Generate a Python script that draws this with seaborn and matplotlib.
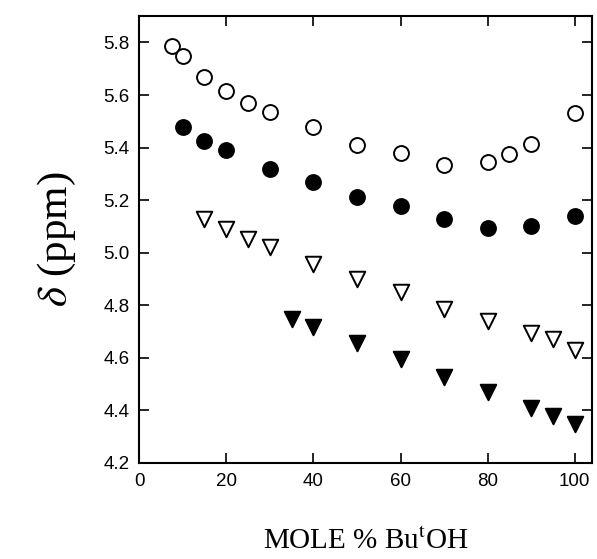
import numpy as np
import matplotlib
matplotlib.use("Agg")
import matplotlib.pyplot as plt
import pandas as pd
import seaborn as sns

# values
x_open_circ = [7.5, 10, 15, 20, 25, 30, 40, 50, 60, 70, 80, 85, 90, 100]
y_open_circ = [5.785, 5.75, 5.67, 5.615, 5.57, 5.535, 5.48, 5.41, 5.38, 5.335, 5.345, 5.375, 5.415, 5.53]

x_fill_circ = [10, 15, 20, 30, 40, 50, 60, 70, 80, 90, 100]
y_fill_circ = [5.48, 5.426, 5.39, 5.32, 5.27, 5.21, 5.177, 5.128, 5.094, 5.10, 5.14]

x_open_tri = [15, 20, 25, 30, 40, 50, 60, 70, 80, 90, 95, 100]
y_open_tri = [5.13, 5.09, 5.053, 5.02, 4.955, 4.90, 4.85, 4.785, 4.74, 4.695, 4.67, 4.63]

x_fill_tri = [35, 40, 50, 60, 70, 80, 90, 95, 100]
y_fill_tri = [4.747, 4.717, 4.655, 4.596, 4.525, 4.468, 4.408, 4.38, 4.347]

series = [
    (x_open_circ, y_open_circ, 'o', 'white', 115),
    (x_fill_circ, y_fill_circ, 'o', 'black', 115),
    (x_open_tri, y_open_tri, 'v', 'white', 125),
    (x_fill_tri, y_fill_tri, 'v', 'black', 125),
]

sns.set_style("ticks")
plt.rcParams['font.family'] = ['Liberation Sans', 'DejaVu Sans']
plt.rcParams['mathtext.fontset'] = 'stix'

fig = plt.figure(figsize=(5.97, 5.59), dpi=100)
ax = fig.add_axes([0.233, 0.172, 0.759, 0.799])

for xs, ys, mk, fc, sz in series:
    df = pd.DataFrame({'x': xs, 'y': ys})
    sns.scatterplot(data=df, x='x', y='y', marker=mk, s=sz, facecolor=fc,
                    edgecolor='black', linewidth=1.4, ax=ax, zorder=3)

ax.set_xlim(0, 104)
ax.set_ylim(4.2, 5.9)
ax.set_xticks([0, 20, 40, 60, 80, 100])
ax.set_yticks(np.arange(4.2, 5.81, 0.2))
ax.set_yticklabels(['%.1f' % v for v in np.arange(4.2, 5.81, 0.2)])
ax.tick_params(direction='in', length=7, width=1.2, labelsize=13.5,
               top=True, right=True, colors='black', pad=7)
for sp in ax.spines.values():
    sp.set_linewidth(1.5)
    sp.set_color('black')

ax.set_xlabel('MOLE % Bu$^{\\rm t}$OH', family='Liberation Serif', fontsize=21,
              labelpad=28, color='black')
ax.set_ylabel('$\\delta$ (ppm)', family='Liberation Serif', fontsize=31,
              labelpad=18, color='black')

fig.savefig('out.png', dpi=100)
